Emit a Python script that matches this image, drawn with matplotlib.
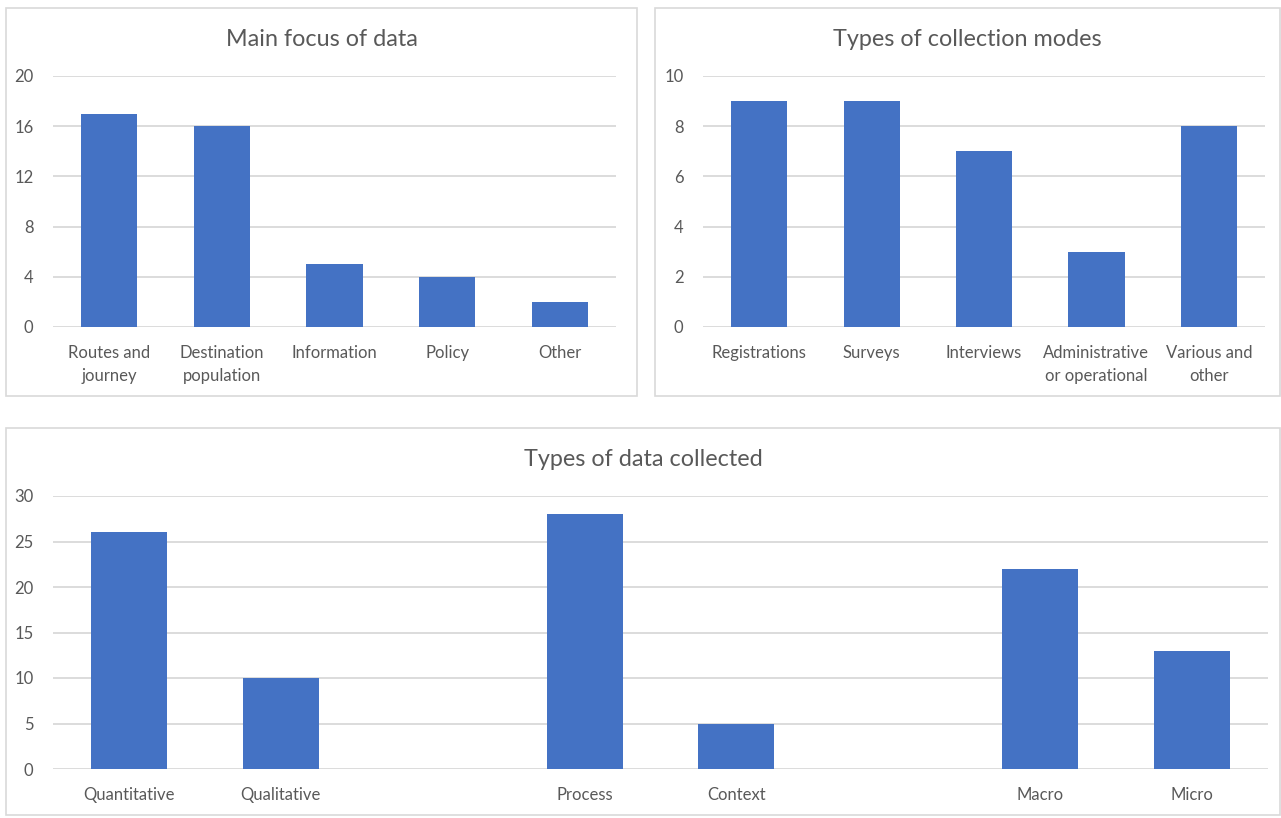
import matplotlib.pyplot as plt
from matplotlib.patches import Rectangle

# data
focus_labels = ['Routes and\njourney', 'Destination\npopulation', 'Information', 'Policy', 'Other']
focus_values = [17, 16, 5, 4, 2]

mode_labels = ['Registrations', 'Surveys', 'Interviews', 'Administrative\nor operational', 'Various and\nother']
mode_values = [9, 9, 7, 3, 8]

# blank categories are the gaps between groups
type_labels = ['Quantitative', 'Qualitative', '', 'Process', 'Context', '', 'Macro', 'Micro']
type_values = [26, 10, 0, 28, 5, 0, 22, 13]

BLUE = '#4472C4'
GREY = '#595959'
GRID = '#D9D9D9'

plt.rcParams['font.family'] = ['Lato', 'DejaVu Sans']

W, H = 1281, 818
fig = plt.figure(figsize=(W / 100, H / 100), dpi=100)


def px_box(x0, y0, x1, y1):
    # pixel box (top-left origin) -> figure fraction rect
    return [x0 / W, 1 - y1 / H, (x1 - x0) / W, (y1 - y0) / H]


def panel(box, title, title_y):
    l, b, w, h = px_box(*box)
    fig.add_artist(Rectangle((l, b), w, h, transform=fig.transFigure,
                             fill=False, edgecolor=GRID, linewidth=1.2))
    fig.text(l + w / 2, 1 - title_y / H, title, ha='center', va='center',
             fontsize=16.8, color=GREY)


def bars(rect, labels, values, ymax, step):
    ax = fig.add_axes(px_box(*rect))
    x = list(range(len(labels)))
    ax.bar(x, values, width=0.5, color=BLUE, zorder=3)
    ax.set_xlim(-0.5, len(labels) - 0.5)
    ax.set_ylim(0, ymax)
    ax.set_yticks(range(0, ymax + 1, step))
    ax.set_xticks(x)
    ax.set_xticklabels(labels, linespacing=1.5)
    ax.grid(axis='y', color=GRID, linewidth=1.3, zorder=0)
    for s in ax.spines.values():
        s.set_visible(False)
    ax.tick_params(axis='both', length=0, labelsize=12, colors=GREY)
    ax.tick_params(axis='x', pad=13)
    ax.tick_params(axis='y', pad=14)
    return ax


panel((6, 8, 637, 396), 'Main focus of data', 40)
bars((53, 76, 616, 327), focus_labels, focus_values, 20, 4)

panel((655, 8, 1280, 396), 'Types of collection modes', 40)
bars((703, 76, 1265, 327), mode_labels, mode_values, 10, 2)

panel((6, 428, 1280, 815), 'Types of data collected', 459)
bars((53, 496, 1268, 769), type_labels, type_values, 30, 5)

fig.savefig('out.png', dpi=100)
